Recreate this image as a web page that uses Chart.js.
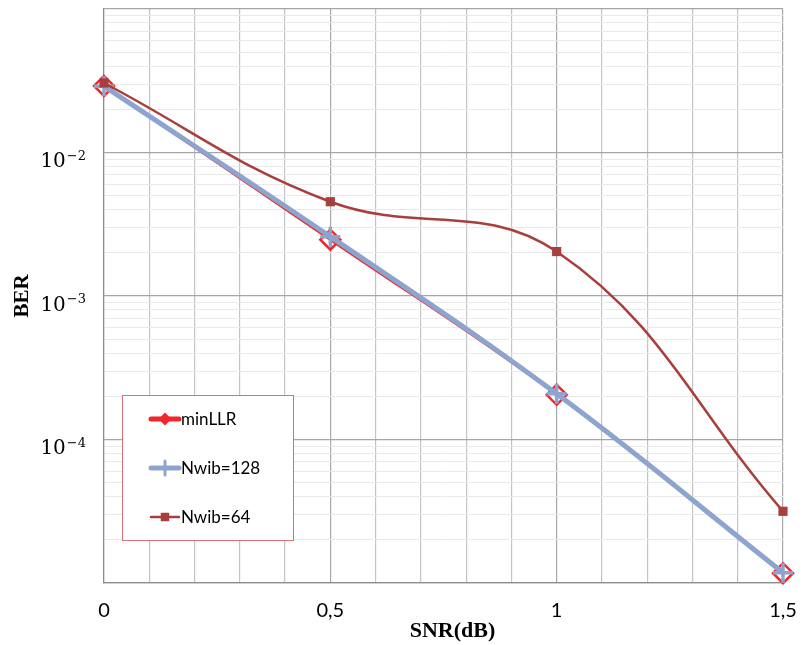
<!DOCTYPE html>
<html>
<head>
<meta charset="utf-8">
<title>BER vs SNR</title>
<script src="https://cdn.jsdelivr.net/npm/chart.js@4.4.1/dist/chart.umd.min.js"></script>
<style>
    html, body { margin: 0; padding: 0; background: #fff; }
    #wrap { width: 804px; height: 645px; position: relative; }
</style>
</head>
<body>
<div id="wrap"><canvas id="berChart"></canvas></div>
<script>
// SNR points (dB) and measured BER per decoder
const snr = [0, 0.5, 1, 1.5];
const berMinLLR = [0.0291, 0.00247, 0.000205, 0.0000117];
const berNwib128 = [0.0290, 0.00259, 0.000208, 0.0000118];
const berNwib64 = [0.0305, 0.00454, 0.00204, 0.0000316];

const xTickValues = [0, 0.5, 1, 1.5];
const xTickLabels = ['0', '0,5', '1', '1,5'];
const yTickExponents = [-2, -3, -4];

const RED = '#F0262A';
const BLUE = '#8DA5CE';
const DARK_RED = '#A83F3D';

function toPoints(ys) {
    return snr.map((x, i) => ({ x: x, y: ys[i] }));
}

function isDecade(v) {
    const l = Math.log10(v);
    return Math.abs(l - Math.round(l)) < 1e-9;
}

// 10^n labels drawn by hand so the exponent sits raised
const powerLabels = {
    id: 'powerLabels',
    afterDraw(chart) {
        const ctx = chart.ctx;
        const yScale = chart.scales.y;
        const right = yScale.right - 19;
        ctx.save();
        ctx.fillStyle = '#000';
        ctx.textAlign = 'left';
        ctx.textBaseline = 'alphabetic';
        yTickExponents.forEach(function(e) {
            const y = yScale.getPixelForValue(Math.pow(10, e));
            const sup = '\u2212' + Math.abs(e);
            ctx.font = '13px "DejaVu Serif"';
            const wSup = ctx.measureText(sup).width;
            ctx.font = '20px "DejaVu Serif"';
            const wBase = ctx.measureText('10').width;
            const x0 = right - wSup - wBase;
            ctx.fillText('10', x0, y + 14.5);
            ctx.font = '13px "DejaVu Serif"';
            ctx.fillText(sup, x0 + wBase + 1, y + 7);
        });

        // x axis title, sits a little right of centre
        const area = chart.chartArea;
        ctx.font = 'bold 22px "Liberation Serif"';
        ctx.textAlign = 'center';
        ctx.textBaseline = 'middle';
        ctx.fillText('SNR(dB)', (area.left + area.right) / 2 + 9, 631);
        ctx.restore();
    }
};

// boxed legend inside the plot
const boxLegend = {
    id: 'boxLegend',
    afterDraw(chart) {
        const ctx = chart.ctx;
        const bx = 122, by = 395, bw = 171, bh = 145;
        ctx.save();
        ctx.fillStyle = '#fff';
        ctx.fillRect(bx, by, bw, bh);
        ctx.strokeStyle = '#DC6F78';
        ctx.lineWidth = 1;
        ctx.strokeRect(bx + 0.5, by + 0.5, bw, bh);

        const rows = [24, 73, 122];
        chart.data.datasets.forEach(function(ds, i) {
            const y = by + rows[i];
            const x1 = bx + 29, x2 = bx + 57;
            ctx.strokeStyle = ds.borderColor;
            ctx.lineWidth = ds.legendLineWidth;
            ctx.lineCap = 'round';
            ctx.beginPath();
            ctx.moveTo(x1, y);
            ctx.lineTo(x2, y);
            ctx.stroke();
            ctx.fillStyle = ds.borderColor;
            ctx.strokeStyle = ds.borderColor;
            ctx.lineWidth = ds.legendPointBorder;
            Chart.helpers.drawPoint(ctx, {
                pointStyle: ds.pointStyle,
                radius: ds.legendPointRadius,
                borderWidth: ds.legendPointBorder
            }, (x1 + x2) / 2, y);
            ctx.fillStyle = '#000';
            ctx.font = '17px Lato';
            ctx.textAlign = 'left';
            ctx.textBaseline = 'middle';
            ctx.fillText(ds.label, x2 + 2, y + 1);
        });
        ctx.restore();
    }
};

const ctxBer = document.getElementById('berChart');

new Chart(ctxBer, {
    type: 'line',
    data: {
        datasets: [
            {
                label: 'minLLR',
                data: toPoints(berMinLLR),
                borderColor: RED,
                borderWidth: 2.5,
                pointStyle: 'rectRot',
                pointRadius: 10,
                pointBorderWidth: 2.5,
                pointBorderColor: RED,
                pointBackgroundColor: 'rgba(255,255,255,0)',
                legendLineWidth: 5,
                legendPointRadius: 5,
                legendPointBorder: 2,
                order: 3
            },
            {
                label: 'Nwib=128',
                data: toPoints(berNwib128),
                borderColor: BLUE,
                borderWidth: 5,
                pointStyle: 'cross',
                pointRadius: 10,
                pointBorderWidth: 3.5,
                pointBorderColor: BLUE,
                pointBackgroundColor: BLUE,
                legendLineWidth: 5,
                legendPointRadius: 7,
                legendPointBorder: 3,
                order: 2
            },
            {
                label: 'Nwib=64',
                data: toPoints(berNwib64),
                borderColor: DARK_RED,
                borderWidth: 2.5,
                pointStyle: 'rect',
                pointRadius: 6.5,
                pointBorderWidth: 0,
                pointBorderColor: DARK_RED,
                pointBackgroundColor: DARK_RED,
                legendLineWidth: 2.5,
                legendPointRadius: 6,
                legendPointBorder: 0,
                order: 1
            }
        ]
    },
    options: {
        responsive: true,
        maintainAspectRatio: false,
        animation: false,
        clip: false,
        elements: {
            line: { tension: 0.4, fill: false }
        },
        layout: {
            autoPadding: false,
            padding: { left: 0, right: 21, top: 9, bottom: 0 }
        },
        plugins: {
            legend: { display: false },
            tooltip: { enabled: false }
        },
        scales: {
            x: {
                type: 'linear',
                min: 0,
                max: 1.5,
                afterFit: function(s) {
                    s.height = 62;
                    s.paddingLeft = 0;
                    s.paddingRight = 0;
                },
                ticks: {
                    stepSize: 0.1,
                    autoSkip: false,
                    maxRotation: 0,
                    padding: 16,
                    color: '#000',
                    font: { family: 'Lato', size: 20 },
                    callback: function(v) {
                        const k = xTickValues.findIndex(t => Math.abs(t - v) < 1e-6);
                        return k >= 0 ? xTickLabels[k] : '';
                    }
                },
                grid: {
                    drawTicks: false,
                    color: function(c) {
                        const v = c.tick ? c.tick.value : 0;
                        return Math.abs(v * 2 - Math.round(v * 2)) < 1e-6 ? '#A9A9A9' : '#C4C4C4';
                    },
                    lineWidth: 1.2
                },
                border: { color: '#8C8C8C', width: 1.2 },
                title: { display: false }
            },
            y: {
                type: 'logarithmic',
                min: 1e-5,
                max: 1e-1,
                afterFit: function(s) {
                    s.width = 104;
                    s.paddingTop = 0;
                    s.paddingBottom = 0;
                },
                afterBuildTicks: function(s) {
                    const ticks = [];
                    for (let e = -5; e <= -2; e++) {
                        for (let m = 1; m <= 9; m++) {
                            ticks.push({ value: m * Math.pow(10, e) });
                        }
                    }
                    ticks.push({ value: 1e-1 });
                    s.ticks = ticks;
                },
                ticks: { display: false, autoSkip: false },
                grid: {
                    drawTicks: false,
                    color: function(c) {
                        const v = c.tick ? c.tick.value : 1;
                        return isDecade(v) ? '#A6A6A6' : '#E9E9E9';
                    },
                    lineWidth: function(c) {
                        const v = c.tick ? c.tick.value : 1;
                        return isDecade(v) ? 1.3 : 1;
                    }
                },
                border: { color: '#8C8C8C', width: 1.2 },
                title: {
                    display: true,
                    text: 'BER',
                    color: '#000',
                    font: { family: '"Liberation Serif"', size: 21, weight: 'bold' },
                    padding: { top: 10, bottom: 0 }
                }
            }
        }
    },
    plugins: [powerLabels, boxLegend]
});
</script>
</body>
</html>
